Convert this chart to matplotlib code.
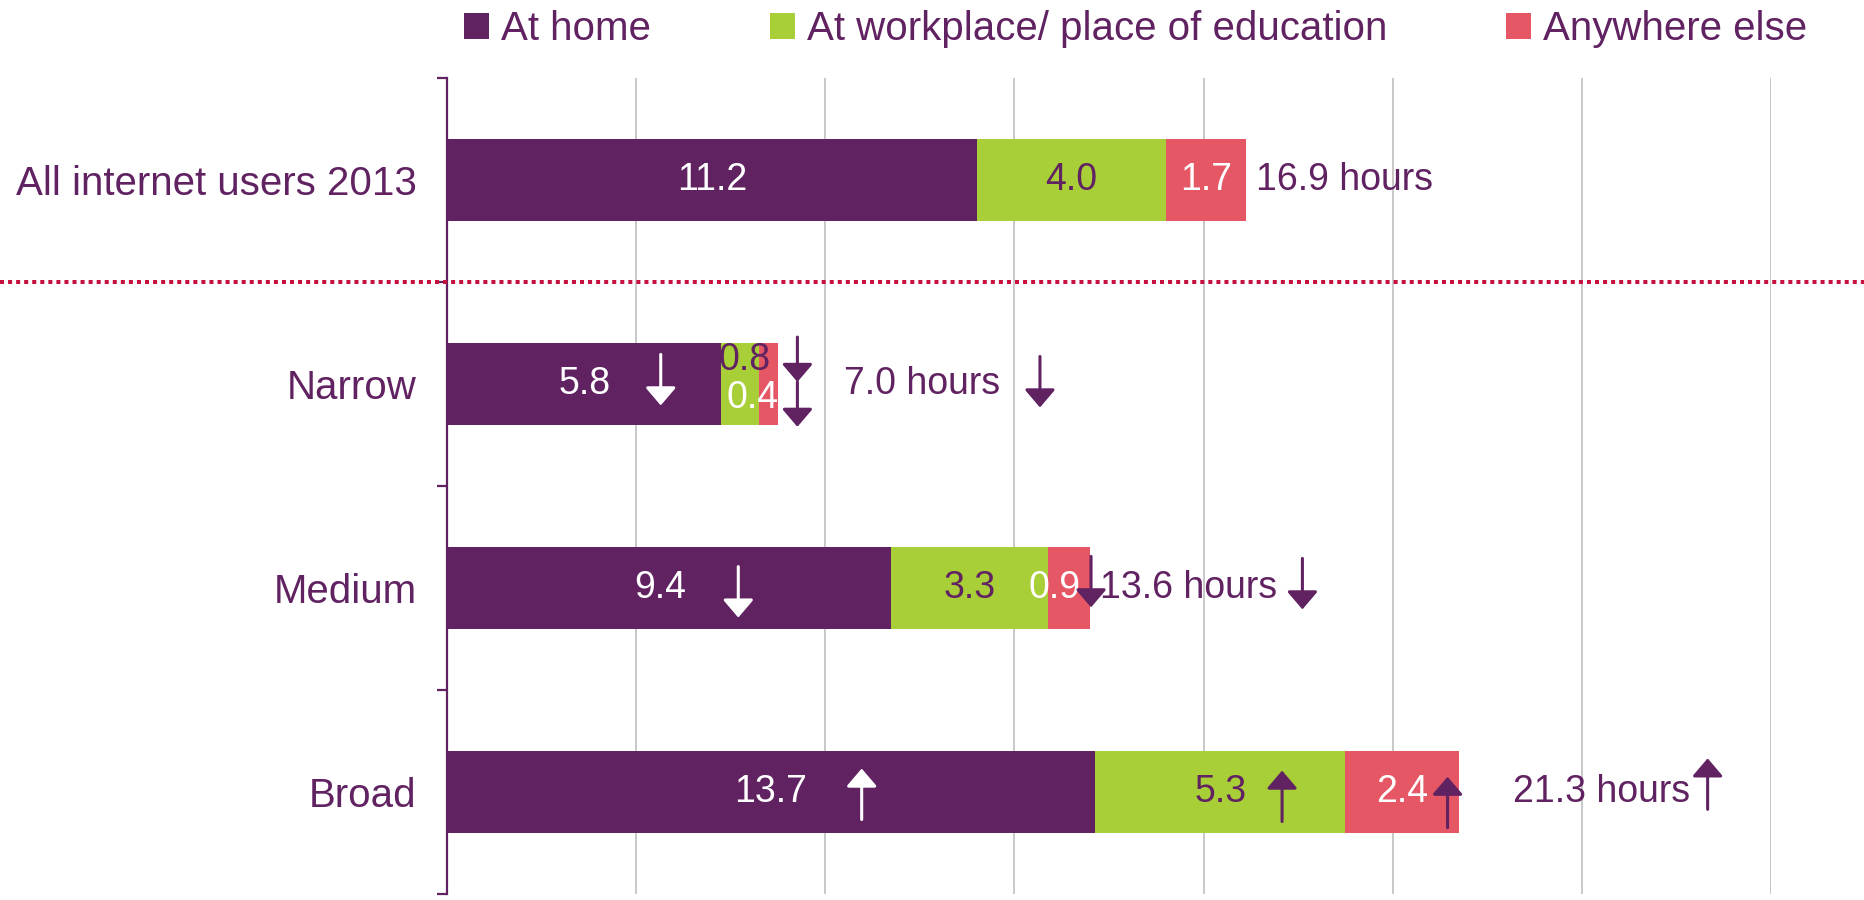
import numpy as np
import matplotlib
matplotlib.use("Agg")
import matplotlib.pyplot as plt
import matplotlib.transforms as mtransforms
from matplotlib.patches import Patch

plt.rcParams['font.family'] = ['Liberation Sans', 'DejaVu Sans']

# data
categories = ['All internet users 2013', 'Narrow', 'Medium', 'Broad']
series_names = ['At home', 'At workplace/ place of education', 'Anywhere else']
home = [11.2, 5.8, 9.4, 13.7]
work = [4.0, 0.8, 3.3, 5.3]
elsewhere = [1.7, 0.4, 0.9, 2.4]
totals = [16.9, 7.0, 13.6, 21.3]
# change vs all internet users: 1 = up, -1 = down, 0 = none
home_change = [0, -1, -1, 1]
work_change = [0, -1, 0, 1]
else_change = [0, -1, -1, 1]
total_change = [0, -1, -1, 1]

PURPLE = '#612262'
GREEN = '#A8CE38'
RED = '#E55764'
GRID = '#C4C4C4'
DOTS = '#C8103F'

seg_colors = [PURPLE, GREEN, RED]
label_colors = ['white', PURPLE, 'white']
arrow_colors = ['white', PURPLE, PURPLE]

# manual nudges of labels / arrows (hours, category units)
label_dx = [[0, 0, -0.2, 0], [0, 0.1, 0, 0], [0, -0.34, -0.3, 0]]
label_dy = [[0, 0, 0, 0], [0, -0.12, 0, 0], [0, 0.07, 0, 0]]
arrow_dx = [[0, 1.62, 1.46, 1.92], [0, 1.21, 0, 1.31], [0, 0.61, 0.47, 0.96]]
arrow_dy = [[0, -0.02, 0.02, 0.01], [0, -0.12, 0, 0.02], [0, 0.1, -0.03, 0.05]]
total_dx = [0.2, 1.4, 0.2, 1.15]
total_arrow_dx = [0, 5.54, 4.49, 5.26]
total_arrow_dy = [0, -0.01, -0.02, -0.04]

FS = 29
VFS = 27

fig = plt.figure(figsize=(18.64, 9), dpi=100)
ax = fig.add_axes([447 / 1864, 6 / 900, 1324 / 1864, 816 / 900])


def draw_arrow(x, yc, direction, color, length=0.25):
    head = yc - direction * length / 2
    tail = yc + direction * length / 2
    ax.annotate('', xy=(x, head), xytext=(x, tail),
                arrowprops=dict(arrowstyle='-|>,head_length=0.55,head_width=0.47',
                                mutation_scale=20, lw=2.2, color=color,
                                shrinkA=0, shrinkB=0))


y = np.arange(len(categories))
left = np.zeros(len(categories))
all_series = [home, work, elsewhere]
all_changes = [home_change, work_change, else_change]
for s, (vals, col) in enumerate(zip(all_series, seg_colors)):
    vals = np.array(vals)
    ax.barh(y, vals, left=left, height=0.4, color=col, zorder=2)
    centers = left + vals / 2
    for j in range(len(categories)):
        ax.text(centers[j] + label_dx[s][j], y[j] + label_dy[s][j], f'{vals[j]:.1f}',
                ha='center', va='center', fontsize=VFS, color=label_colors[s], zorder=3)
        if all_changes[s][j] != 0:
            length = 0.22 if j == 1 and s > 0 else 0.25
            draw_arrow(centers[j] + arrow_dx[s][j], y[j] + arrow_dy[s][j],
                       all_changes[s][j], arrow_colors[s], length)
    left = left + vals

for j in range(len(categories)):
    ax.text(left[j] + total_dx[j], y[j], f'{totals[j]:.1f} hours', ha='left', va='center',
            fontsize=VFS, color=PURPLE, zorder=3)
    if total_change[j] != 0:
        draw_arrow(left[j] + total_arrow_dx[j], y[j] + total_arrow_dy[j],
                   total_change[j], PURPLE)

ax.set_xlim(0, 28)
ax.set_ylim(len(categories) - 0.5, -0.5)
ax.set_xticks(np.arange(4, 29, 4))
ax.xaxis.grid(True, color=GRID, lw=1.3, zorder=0)
ax.tick_params(axis='x', length=0, labelbottom=False)

ax.set_yticks(np.arange(-0.5, len(categories)), [''] * (len(categories) + 1))
ax.set_yticks(y, categories, minor=True)
ax.tick_params(axis='y', which='major', length=7, width=1.6, color=PURPLE, direction='out')
ax.tick_params(axis='y', which='minor', length=0, pad=22, labelsize=FS, labelcolor=PURPLE)

for side in ['top', 'right', 'bottom']:
    ax.spines[side].set_visible(False)
ax.spines['left'].set_color(PURPLE)
ax.spines['left'].set_linewidth(1.6)

# dotted separator across the whole figure
trans = mtransforms.blended_transform_factory(fig.transFigure, ax.transData)
ax.plot([0, 1], [0.5, 0.5], transform=trans, color=DOTS, lw=2.9,
        linestyle=(0, (1, 1)), clip_on=False, zorder=4)

handles = [Patch(facecolor=c, edgecolor='none') for c in seg_colors]
leg = fig.legend(handles, series_names, loc='center left',
                 bbox_to_anchor=(464 / 1864, 1 - 29 / 900), ncol=3, frameon=False,
                 fontsize=FS, handlelength=0.62, handleheight=0.62, handletextpad=0.3,
                 columnspacing=2.95, borderpad=0, borderaxespad=0)
for t in leg.get_texts():
    t.set_color(PURPLE)

fig.savefig('out.png', dpi=100)
